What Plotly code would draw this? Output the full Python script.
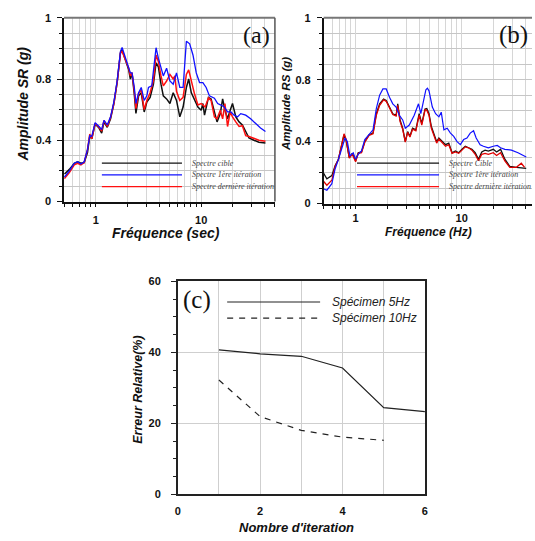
import plotly.graph_objects as go

W, H = 535, 541
def px(x):
    return x / W
def py(y):
    return 1 - y / H

# ---------------- Panel (a) data ----------------
a_freq_black = [0.505,0.562,0.626,0.673,0.723,0.777,0.835,0.878,0.917,0.986,
                1.075,1.138,1.197,1.286,1.382,1.486,1.597,1.715,1.778,1.884,
                1.981,2.054,2.129,2.207,2.321,2.405,2.549,2.700,2.880,3.050,
                3.278,3.523,3.731,3.924,4.157,4.371,4.697,5.049,5.425,5.831,
                6.266,6.734,7.234,7.607,8.058,8.660,9.306,10.0,10.37,10.75,
                11.72,12.41,13.34,14.13,15.18,15.97,16.79,17.78,18.84,19.81,
                21.29,22.88,24.58,26.42,28.39,31.62,35.24,40.68]
a_black = [0.18,0.21,0.25,0.26,0.25,0.255,0.32,0.43,0.41,0.506,
           0.48,0.447,0.52,0.485,0.54,0.64,0.78,0.97,0.99,0.94,
           0.89,0.86,0.80,0.84,0.70,0.575,0.69,0.71,0.585,0.65,
           0.68,0.766,0.905,0.88,0.766,0.69,0.67,0.64,0.71,0.66,
           0.553,0.617,0.745,0.80,0.71,0.66,0.617,0.596,0.64,0.564,
           0.68,0.67,0.575,0.52,0.575,0.67,0.596,0.54,0.596,0.64,
           0.553,0.52,0.50,0.457,0.415,0.40,0.387,0.383]

a_freq_red = [0.505,0.562,0.626,0.673,0.723,0.777,0.835,0.878,0.917,0.986,
              1.075,1.138,1.197,1.286,1.382,1.486,1.597,1.715,1.778,1.884,
              1.981,2.054,2.129,2.207,2.321,2.405,2.549,2.700,2.880,3.050,
              3.278,3.523,3.731,3.924,4.157,4.371,4.697,5.049,5.425,5.623,
              5.831,6.266,6.734,7.234,7.607,8.058,8.660,9.306,10.0,10.37,
              10.90,11.72,12.41,13.34,14.13,15.18,15.97,16.79,17.78,18.84,
              19.81,21.29,22.88,24.58,26.42,28.39,31.62,35.24,40.68]
a_red = [0.15,0.19,0.24,0.25,0.24,0.255,0.34,0.44,0.41,0.51,
         0.485,0.46,0.53,0.49,0.55,0.64,0.78,0.97,0.98,0.94,
         0.90,0.87,0.82,0.84,0.72,0.606,0.706,0.73,0.60,0.66,
         0.71,0.79,0.957,0.915,0.82,0.755,0.787,0.83,0.80,0.82,
         0.72,0.66,0.68,0.83,0.86,0.787,0.70,0.63,0.64,0.63,
         0.617,0.677,0.66,0.553,0.54,0.596,0.54,0.64,0.49,0.585,
         0.553,0.52,0.49,0.495,0.43,0.425,0.41,0.40,0.394]

a_freq_blue = [0.505,0.562,0.626,0.673,0.723,0.777,0.835,0.878,0.917,0.986,
               1.075,1.138,1.197,1.286,1.382,1.486,1.597,1.715,1.778,1.884,
               1.981,2.054,2.129,2.207,2.321,2.405,2.549,2.700,2.880,3.050,
               3.162,3.398,3.731,3.924,4.157,4.371,4.697,5.049,5.425,5.831,
               6.266,6.734,7.234,7.774,8.354,8.977,9.647,10.37,11.14,11.97,
               13.34,14.33,15.40,16.55,17.78,19.11,20.54,22.07,23.71,26.42,
               29.43,32.78,36.52,40.68]
a_blue = [0.16,0.20,0.25,0.26,0.245,0.26,0.34,0.43,0.425,0.515,
          0.49,0.47,0.53,0.50,0.553,0.65,0.79,0.98,1.006,0.957,
          0.90,0.87,0.84,0.84,0.745,0.64,0.71,0.745,0.66,0.69,
          0.745,0.755,1.004,0.936,0.87,0.82,0.87,0.787,0.766,0.84,
          0.745,0.745,1.047,1.03,0.957,0.84,0.777,0.777,0.745,0.69,
          0.675,0.64,0.63,0.617,0.585,0.585,0.564,0.553,0.574,0.564,
          0.54,0.51,0.48,0.457]

# ---------------- Panel (b) data ----------------
b_freq_black = [0.489,0.536,0.597,0.641,0.689,0.740,0.778,0.812,0.872,0.930,
                1.0,1.059,1.137,1.221,1.340,1.460,1.568,1.685,1.835,1.944,
                2.087,2.242,2.409,2.496,2.624,2.779,2.942,3.094,3.252,3.444,
                3.700,3.974,4.209,4.520,
                4.69,4.92,5.18,5.48,5.81,6.10,6.56,7.04,7.56,8.12,
                8.73,9.38,10.07,10.82,11.62,12.49,13.41,14.40,15.47,16.62,
                17.85,19.87,21.34,23.26,25.53,28.42,32.78,40.6]
b_black = [0.206,0.16,0.18,0.244,0.286,0.38,0.444,0.41,0.297,0.324,
           0.276,0.328,0.333,0.40,0.444,0.455,0.58,0.644,0.675,0.665,
           0.623,0.58,0.57,0.644,0.54,0.486,0.40,0.465,0.434,0.486,
           0.476,0.58,0.518,0.61,
           0.613,0.58,0.497,0.455,0.40,0.423,0.40,0.38,0.39,0.328,
           0.339,0.328,0.35,0.37,0.36,0.35,0.328,0.286,0.333,0.345,
           0.339,0.35,0.333,0.35,0.286,0.24,0.234,0.227]

b_freq_red = [0.489,0.536,0.597,0.641,0.689,0.740,0.778,0.812,0.872,0.930,
              1.0,1.059,1.137,1.221,1.340,1.460,1.568,1.685,1.835,1.944,
              2.087,2.242,2.409,2.496,2.624,2.779,2.942,3.094,3.252,3.444,
              3.700,3.974,4.209,4.520,
              4.69,4.92,5.18,5.48,5.81,6.10,6.56,7.04,7.56,8.12,
              8.73,9.38,10.07,10.82,11.62,12.49,13.41,14.40,15.47,16.62,
              17.85,19.87,21.34,23.26,25.53,28.42,32.78,36.49,39.2]
b_red = [0.15,0.118,0.15,0.24,0.286,0.387,0.45,0.417,0.293,0.318,
         0.27,0.324,0.328,0.396,0.44,0.45,0.57,0.634,0.67,0.66,
         0.62,0.575,0.565,0.634,0.53,0.48,0.396,0.46,0.43,0.48,
         0.47,0.57,0.507,0.606,
         0.602,0.57,0.486,0.444,0.39,0.417,0.39,0.37,0.38,0.324,
         0.333,0.324,0.345,0.366,0.36,0.345,0.318,0.276,0.318,0.324,
         0.318,0.328,0.31,0.328,0.276,0.234,0.234,0.26,0.234]

b_freq_blue = [0.489,0.536,0.597,0.641,0.689,0.740,0.795,0.836,0.885,0.950,
               1.0,1.059,1.137,1.221,1.340,1.460,1.568,1.685,1.809,1.944,
               2.087,2.242,2.409,2.587,2.779,2.942,3.206,3.570,3.917,4.120,
               4.424,4.60,4.75,4.92,
               5.29,5.68,6.10,6.42,6.80,7.30,7.84,8.42,9.05,9.72,
               10.44,11.21,12.04,12.94,13.70,14.93,16.03,17.85,19.87,21.65,
               23.26,25.53,29.44,33.98,40.6]
b_blue = [0.097,0.086,0.128,0.223,0.286,0.36,0.423,0.40,0.307,0.328,
          0.286,0.318,0.34,0.413,0.444,0.476,0.613,0.70,0.74,0.74,
          0.686,0.644,0.623,0.57,0.54,0.486,0.507,0.57,0.644,0.58,
          0.68,0.735,0.745,0.728,
          0.623,0.58,0.56,0.59,0.476,0.486,0.455,0.434,0.40,0.38,
          0.413,0.423,0.455,0.47,0.423,0.38,0.37,0.36,0.37,0.375,
          0.36,0.35,0.345,0.328,0.30]

# ---------------- Panel (c) data ----------------
c_iter_5 = [1, 2, 3, 4, 5, 6]
c_err_5 = [40.7, 39.6, 38.9, 35.6, 24.4, 23.3]
c_iter_10 = [1, 2, 3, 4, 5]
c_err_10 = [32.2, 21.9, 18.0, 16.1, 15.2]

legend_a = ["Spectre cible", "Spectre 1ère itération", "Spectre dernière itération"]
legend_b = ["Spectre Cible", "Spectre 1ère itération", "Spectre dernière itération"]
legend_c = ["Spécimen 5Hz", "Spécimen 10Hz"]

SANS = "Liberation Sans, Arial, sans-serif"
SERIF = "Liberation Serif, Times New Roman, serif"
BLACK, BLUE, RED = "#111111", "#1010ff", "#ff1010"

fig = go.Figure()
# panel a
fig.add_trace(go.Scatter(x=a_freq_black, y=a_black, xaxis="x", yaxis="y", mode="lines",
                         line=dict(color=BLACK, width=1.5)))
fig.add_trace(go.Scatter(x=a_freq_red, y=a_red, xaxis="x", yaxis="y", mode="lines",
                         line=dict(color=RED, width=1.5)))
fig.add_trace(go.Scatter(x=a_freq_blue, y=a_blue, xaxis="x", yaxis="y", mode="lines",
                         line=dict(color=BLUE, width=1.3)))
# panel b
fig.add_trace(go.Scatter(x=b_freq_black, y=b_black, xaxis="x2", yaxis="y2", mode="lines",
                         line=dict(color=BLACK, width=1.3)))
fig.add_trace(go.Scatter(x=b_freq_red, y=b_red, xaxis="x2", yaxis="y2", mode="lines",
                         line=dict(color="#e00000", width=1.3)))
fig.add_trace(go.Scatter(x=b_freq_blue, y=b_blue, xaxis="x2", yaxis="y2", mode="lines",
                         line=dict(color=BLUE, width=1.2)))
# panel c
fig.add_trace(go.Scatter(x=c_iter_5, y=c_err_5, xaxis="x3", yaxis="y3", mode="lines",
                         line=dict(color="#222222", width=1.2)))
fig.add_trace(go.Scatter(x=c_iter_10, y=c_err_10, xaxis="x3", yaxis="y3", mode="lines",
                         line=dict(color="#222222", width=1.2, dash="6px,6px")))

minor_log = [0.5, 0.6, 0.7, 0.8, 0.9, 2, 3, 4, 5, 6, 7, 8, 9, 20, 30, 40, 50]
VGRID = "#d6d6d6"
HGRID = "#c6c6c6"
tickfont = dict(family=SANS, size=11, color="#111", weight="bold")

def log_axis(domain, rng, anchor, standoff):
    return dict(type="log", domain=domain, range=rng, anchor=anchor,
                tickvals=[1, 10], ticktext=["1", "10"], ticks="outside", ticklen=4,
                tickcolor="#111", showline=True, linecolor="#111", linewidth=1.5,
                showgrid=True, gridcolor=VGRID, gridwidth=1, zeroline=False,
                tickfont=tickfont, ticklabelstandoff=standoff,
                minor=dict(tickvals=minor_log, ticks="outside", ticklen=4, tickcolor="#111",
                           showgrid=True, gridcolor=VGRID, gridwidth=1))

def amp_axis(domain, anchor):
    return dict(domain=domain, range=[0, 1.2], anchor=anchor,
                tickvals=[0, 0.4, 0.8, 1.2], ticktext=["0", "0.4", "0.8", "1"],
                ticks="outside", ticklen=5, tickcolor="#111",
                showline=True, linecolor="#111", linewidth=1.5,
                showgrid=True, gridcolor=HGRID, gridwidth=1, zeroline=False,
                tickfont=tickfont, ticklabelstandoff=4,
                minor=dict(dtick=0.1, ticks="outside", ticklen=3, tickcolor="#111",
                           showgrid=True, gridcolor=HGRID, gridwidth=1))

fig.update_layout(
    width=W, height=H, margin=dict(l=0, r=0, t=0, b=0),
    paper_bgcolor="white", plot_bgcolor="white", showlegend=False,
    xaxis=log_axis([px(61.7), px(275)], [-0.301, 1.699], "y", 3),
    yaxis=amp_axis([py(200), py(12)], "x"),
    xaxis2=log_axis([px(324.3), 1.0], [-0.301, 1.663], "y2", 0),
    yaxis2=amp_axis([py(202), py(12)], "x2"),
    xaxis3=dict(domain=[px(176.7), px(426.7)], range=[0, 6], anchor="y3",
                tickvals=[0, 2, 4, 6], ticks="", showline=True, linecolor="#222",
                linewidth=1.5, mirror=True, showgrid=True, gridcolor="#cfcfcf",
                zeroline=False, tickfont=tickfont, ticklabelstandoff=6,
                minor=dict(dtick=1, showgrid=True, gridcolor="#cfcfcf")),
    yaxis3=dict(domain=[py(499.3), py(281.7)], range=[0, 60], anchor="x3",
                tickvals=[0, 20, 40, 60], ticks="outside", ticklen=5, tickcolor="#222",
                showline=True, linecolor="#222", linewidth=1.5, mirror=True,
                showgrid=True, gridcolor="#cfcfcf", zeroline=False,
                tickfont=tickfont, ticklabelstandoff=8,
                minor=dict(dtick=5, ticks="outside", ticklen=3, tickcolor="#222",
                           showgrid=False)),
)

shapes = []
# frames (top / right) of panels a and b
shapes.append(dict(type="line", xref="paper", yref="paper", x0=px(61.7), x1=px(275),
                   y0=py(12), y1=py(12), line=dict(color="#777", width=2)))
shapes.append(dict(type="line", xref="paper", yref="paper", x0=px(275), x1=px(275),
                   y0=py(12), y1=py(200), line=dict(color="#555", width=1.5)))
shapes.append(dict(type="line", xref="paper", yref="paper", x0=px(324.3), x1=1,
                   y0=py(12), y1=py(12), line=dict(color="#777", width=2)))

annotations = []
# legend samples panels a and b
leg_cols = [BLACK, BLUE, RED]
leg_y = [160.7, 172.7, 184.7]
for i in range(3):
    shapes.append(dict(type="line", xref="paper", yref="paper", x0=px(100), x1=px(181),
                       y0=py(leg_y[i]), y1=py(leg_y[i]), line=dict(color=leg_cols[i], width=1.3)))
    annotations.append(dict(x=px(189), y=py(leg_y[i]), xref="paper", yref="paper",
                            text=legend_a[i], showarrow=False, xanchor="left", yanchor="middle",
                            font=dict(family=SERIF, size=8, color="#444", style="italic")))
    shapes.append(dict(type="line", xref="paper", yref="paper", x0=px(358), x1=px(441),
                       y0=py(leg_y[i]), y1=py(leg_y[i]), line=dict(color=leg_cols[i], width=1.3)))
    annotations.append(dict(x=px(449), y=py(leg_y[i]), xref="paper", yref="paper",
                            text=legend_b[i], showarrow=False, xanchor="left", yanchor="middle",
                            font=dict(family=SERIF, size=8, color="#444", style="italic")))

# legend panel c
shapes.append(dict(type="line", xref="paper", yref="paper", x0=px(226.7), x1=px(320.7),
                   y0=py(302.7), y1=py(302.7), line=dict(color="#222", width=1.2)))
shapes.append(dict(type="line", xref="paper", yref="paper", x0=px(226.7), x1=px(320.7),
                   y0=py(319.3), y1=py(319.3), line=dict(color="#222", width=1.2, dash="6px,6px")))
for txt, yy in zip(legend_c, [302.7, 319.3]):
    annotations.append(dict(x=px(331), y=py(yy), xref="paper", yref="paper", text=txt,
                            showarrow=False, xanchor="left", yanchor="middle",
                            font=dict(family=SANS, size=12, color="#222", style="italic")))

# panel labels
def label(x, y, text, size):
    annotations.append(dict(x=px(x), y=py(y), xref="paper", yref="paper", text=text,
                            showarrow=False, xanchor="center", yanchor="middle",
                            font=dict(family=SERIF, size=size, color="#111")))

label(256, 30, "(a)", 24)
label(516, 30, "(b)", 25)
label(196, 301, "(c)", 25)

# axis titles
def title(x, y, text, size, angle=0):
    annotations.append(dict(x=px(x), y=py(y), xref="paper", yref="paper", text=text,
                            showarrow=False, textangle=angle, xanchor="center", yanchor="middle",
                            font=dict(family=SANS, size=size, color="#111",
                                      weight="bold", style="italic")))

title(20, 100, "Amplitude SR (g)", 14, -90)
title(165, 232, "Fréquence (sec)", 14)
title(285.5, 100, "Amplitude RS (g)", 11.5, -90)
title(430, 231, "Fréquence (Hz)", 12)
title(137, 392, "Erreur Relative(%)", 12.5, -90)
title(297, 533, "Nombre d'iteration", 13)

fig.update_layout(shapes=shapes, annotations=annotations)
fig.write_html("out.html", config={"displayModeBar": False},
               post_script="document.body.style.margin='0';document.body.style.padding='0';")
